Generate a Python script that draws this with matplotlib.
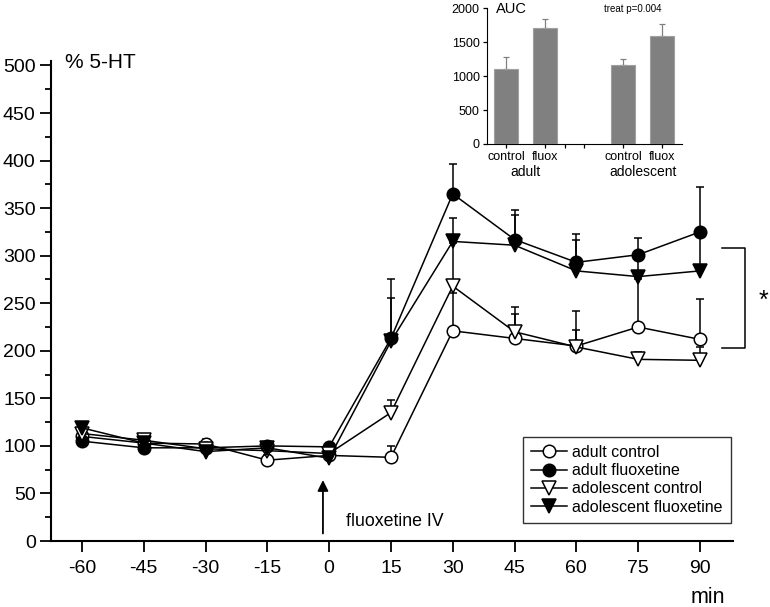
import matplotlib
matplotlib.use("Agg")
import matplotlib.pyplot as plt
import numpy as np

plt.rcParams['font.family'] = ['Liberation Sans', 'DejaVu Sans']

time = [-60, -45, -30, -15, 0, 15, 30, 45, 60, 75, 90]
adult_control = [110, 103, 102, 85, 90, 88, 221, 213, 205, 225, 212]
adult_control_err = [5, 5, 5, 5, 5, 12, 40, 33, 37, 50, 42]
adult_fluox = [105, 98, 98, 100, 99, 213, 365, 317, 293, 301, 325]
adult_fluox_err = [4, 4, 4, 4, 4, 62, 31, 31, 30, 18, 47]
adol_control = [113, 106, 97, 95, 92, 135, 268, 220, 204, 191, 190]
adol_control_err = [6, 6, 5, 5, 5, 13, 45, 19, 18, 8, 14]
adol_fluox = [119, 103, 94, 98, 87, 210, 315, 311, 284, 278, 284]
adol_fluox_err = [6, 5, 4, 5, 4, 45, 25, 32, 32, 25, 40]

series_labels = ['adult control', 'adult fluoxetine', 'adolescent control', 'adolescent fluoxetine']

auc_labels = ['control', 'fluox', 'control', 'fluox']
auc_groups = ['adult', 'adolescent']
auc_values = [1106, 1705, 1165, 1597]
auc_err = [181, 133, 83, 167]

fig = plt.figure(figsize=(7.7, 6.07), dpi=100)
ax = fig.add_axes([0.0662, 0.1087, 0.8857, 0.7913])

series = [
    (adult_control, adult_control_err, 'o', 'white'),
    (adult_fluox, adult_fluox_err, 'o', 'black'),
    (adol_control, adol_control_err, 'v', 'white'),
    (adol_fluox, adol_fluox_err, 'v', 'black'),
]
handles = []
for (vals, err, mk, fc), lab in zip(series, series_labels):
    vals = np.array(vals, float)
    err = np.array(err, float)
    ax.errorbar(time, vals, yerr=[np.zeros_like(err), err], fmt='none',
                ecolor='black', elinewidth=1.1, capsize=3, capthick=1.1, zorder=2)
    h, = ax.plot(time, vals, color='black', lw=1.1, marker=mk, markersize=9 if mk == 'o' else 10,
                 markerfacecolor=fc, markeredgecolor='black', markeredgewidth=1.1,
                 label=lab, zorder=3)
    handles.append(h)

ax.set_xlim(-67.5, 98)
ax.set_ylim(0, 505)
ax.set_xticks(time)
ax.set_xticklabels([str(t) for t in time])
ax.set_yticks(np.arange(0, 501, 50))
ax.set_yticks(np.arange(25, 500, 50), minor=True)
for s in ['top', 'right']:
    ax.spines[s].set_visible(False)
for s in ['left', 'bottom']:
    ax.spines[s].set_linewidth(1.5)
ax.tick_params(axis='both', which='major', direction='out', length=8, width=1.3, labelsize=14)
ax.tick_params(axis='y', which='minor', direction='out', length=4.5, width=1.3)
ax.tick_params(axis='x', pad=6)
ax.tick_params(axis='y', pad=3)

ax.text(-64.2, 503, '% 5-HT', fontsize=15, ha='left', va='center', clip_on=False)
ax.annotate('', xy=(-1.5, 67), xytext=(-1.5, 5),
            arrowprops=dict(arrowstyle='-|>', color='black', lw=1.3, mutation_scale=16))
ax.text(4, 20, 'fluoxetine IV', fontsize=12.8, ha='left', va='center')

# bracket
ax.plot([95.3, 101, 101, 95.3], [308, 308, 203, 203], color='black', lw=1.1, clip_on=False)
ax.text(105.5, 252, '*', fontsize=18, ha='center', va='center', clip_on=False)

fig.text(0.942, 0.015, 'min', fontsize=15.5, ha='right', va='center')

leg = ax.legend(handles=handles, loc='upper right', bbox_to_anchor=(0.949, 0.280),
                bbox_transform=fig.transFigure, fontsize=11.5, frameon=True, fancybox=False,
                edgecolor='black', handlelength=2.3, handletextpad=0.3, labelspacing=0.2,
                borderpad=0.5, borderaxespad=0)
leg.get_frame().set_linewidth(1.0)

# inset
ins = fig.add_axes([0.632, 0.7628, 0.2533, 0.2235])
pos = [1, 2, 4, 5]
ins.bar(pos, auc_values, width=0.6, color='#808080', edgecolor='#a0a0a0', linewidth=0.8, zorder=3)
ins.errorbar(pos, auc_values, yerr=[np.zeros(4), auc_err], fmt='none', ecolor='#808080',
             elinewidth=0.9, capsize=2, capthick=0.9)
ins.set_xlim(0.5, 5.5)
ins.set_ylim(0, 2000)
ins.set_yticks(np.arange(0, 2001, 500))
ins.set_xticks([1, 2, 3, 4, 5])
ins.set_xticks([2.5], minor=True)
ins.set_xticklabels(['control', 'fluox', '', 'control', 'fluox'])
for s in ['top', 'right']:
    ins.spines[s].set_visible(False)
ins.tick_params(axis='both', which='both', direction='out', length=3, width=0.9, labelsize=9, pad=2)
ins.text(1.5, -410, 'adult', fontsize=10, ha='center', va='center')
ins.text(4.5, -410, 'adolescent', fontsize=10, ha='center', va='center')
ins.text(0.75, 1990, 'AUC', fontsize=10.5, ha='left', va='center')
ins.text(3.5, 1990, 'treat p=0.004', fontsize=7, ha='left', va='center')

fig.savefig('out.png', dpi=100)
